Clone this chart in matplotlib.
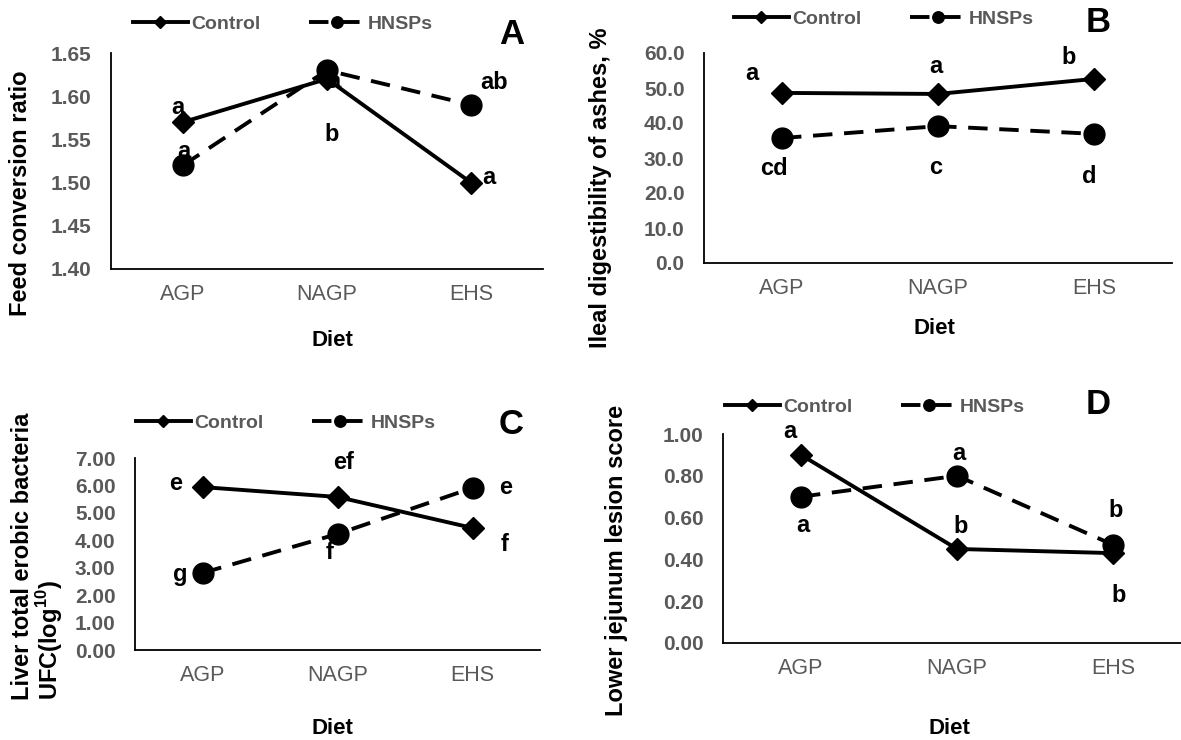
import numpy as np
import matplotlib.pyplot as plt
from matplotlib.ticker import FormatStrFormatter

plt.rcParams['font.family'] = ['Liberation Sans', 'DejaVu Sans']
plt.rcParams['mathtext.fontset'] = 'custom'
plt.rcParams['mathtext.bf'] = 'Liberation Sans:bold'
plt.rcParams['mathtext.rm'] = 'Liberation Sans:bold'

diets = ['AGP', 'NAGP', 'EHS']

# A: feed conversion ratio
fcr_control = [1.57, 1.62, 1.50]
fcr_hnsps = [1.52, 1.63, 1.59]
fcr_let_control = ['a', 'a', 'a']
fcr_let_hnsps = ['a', 'b', 'ab']

# B: ileal digestibility of ashes
ash_control = [48.6, 48.3, 52.6]
ash_hnsps = [35.7, 39.1, 36.9]
ash_let_control = ['a', 'a', 'b']
ash_let_hnsps = ['cd', 'c', 'd']

# C: liver total aerobic bacteria
liv_control = [5.94, 5.58, 4.45]
liv_hnsps = [2.81, 4.23, 5.91]
liv_let_control = ['e', 'ef', 'f']
liv_let_hnsps = ['g', 'f', 'e']

# D: lower jejunum lesion score
les_control = [0.90, 0.45, 0.43]
les_hnsps = [0.70, 0.80, 0.47]
les_let_control = ['a', 'b', 'b']
les_let_hnsps = ['a', 'a', 'b']

W, H = 1181, 740
GRAY = '#595959'
fig = plt.figure(figsize=(W / 100, H / 100), dpi=100)


def px_rect(left, right, top, bottom):
    return [left / W, 1 - bottom / H, (right - left) / W, (bottom - top) / H]


def panel(rect, ctrl, hnsp, let_c, let_h, off_c, off_h, yticks, fmt,
          legend_xy, letter, letter_xy):
    ax = fig.add_axes(rect)
    x = np.arange(len(diets))
    l1, = ax.plot(x, ctrl, color='black', lw=2.8, marker='D', ms=11,
                  zorder=3, clip_on=False, label='Control')
    l2, = ax.plot(x, hnsp, color='black', lw=2.8, ls=(0, (5, 3)), marker='o',
                  ms=15, zorder=3, clip_on=False, label='HNSPs')
    for xi, (v, t, o) in enumerate(zip(ctrl, let_c, off_c)):
        ax.annotate(t, (xi, v), xytext=(o[0] * 0.72, o[1] * 0.72),
                    textcoords='offset points', ha='center', va='center',
                    fontsize=17, fontweight='bold', zorder=2)
    for xi, (v, t, o) in enumerate(zip(hnsp, let_h, off_h)):
        ax.annotate(t, (xi, v), xytext=(o[0] * 0.72, o[1] * 0.72),
                    textcoords='offset points', ha='center', va='center',
                    fontsize=17, fontweight='bold', zorder=2)
    ax.set_xlim(-0.5, 2.5)
    ax.set_ylim(yticks[0], yticks[-1])
    ax.set_yticks(yticks)
    ax.yaxis.set_major_formatter(FormatStrFormatter(fmt))
    ax.set_xticks(x)
    ax.set_xticklabels(diets)
    ax.tick_params(axis='y', length=0, pad=14, labelsize=15, labelcolor=GRAY)
    ax.tick_params(axis='x', length=0, pad=11, labelsize=15.5, labelcolor=GRAY)
    for lab in ax.get_yticklabels():
        lab.set_fontweight('bold')
    for s in ['top', 'right']:
        ax.spines[s].set_visible(False)
    for s in ['left', 'bottom']:
        ax.spines[s].set_linewidth(1.3)
    ax.legend([l1, l2], ['Control', 'HNSPs'], loc='center',
              bbox_to_anchor=(legend_xy[0] / W, 1 - legend_xy[1] / H),
              bbox_transform=fig.transFigure, ncol=2, frameon=False,
              prop={'weight': 'bold', 'size': 14}, labelcolor=GRAY,
              handlelength=2.8, handletextpad=0.2, columnspacing=2.5,
              markerscale=0.55, borderpad=0, borderaxespad=0)
    fig.text(letter_xy[0] / W, 1 - letter_xy[1] / H, letter, fontsize=25,
             fontweight='bold', ha='center', va='center')
    return ax


# offsets of significance letters from their points, pixels (dx, dy up)
panel(px_rect(111, 543, 53, 269), fcr_control, fcr_hnsps,
      fcr_let_control, fcr_let_hnsps,
      [(-5, 15), (7, -3), (18, 5)], [(1, 14), (5, -64), (23, 22)],
      np.arange(1.40, 1.651, 0.05), '%.2f', (283, 24), 'A', (512, 35))
panel(px_rect(704, 1172, 53, 263), ash_control, ash_hnsps,
      ash_let_control, ash_let_hnsps,
      [(-30, 19), (-2, 27), (-25, 21)], [(-8, -30), (-2, -41), (-5, -43)],
      np.arange(0, 60.1, 10), '%.1f', (884, 19), 'B', (1098, 22))
panel(px_rect(135, 540, 458, 650), liv_control, liv_hnsps,
      liv_let_control, liv_let_hnsps,
      [(-27, 4), (6, 34), (32, -17)], [(-22, -2), (-8, -19), (33, 0)],
      np.arange(0, 7.01, 1), '%.2f', (286, 423), 'C', (511, 425))
panel(px_rect(723, 1191, 434, 643), les_control, les_hnsps,
      les_let_control, les_let_hnsps,
      [(-11, 23), (4, 22), (6, -42)], [(2, -29), (2, 22), (3, 34)],
      np.arange(0, 1.01, 0.2), '%.2f', (875, 407), 'D', (1098, 404))

# axis titles
fig.text(332 / W, 1 - 340 / H, 'Diet', fontsize=16, fontweight='bold', ha='center', va='center')
fig.text(934 / W, 1 - 328 / H, 'Diet', fontsize=16, fontweight='bold', ha='center', va='center')
fig.text(332 / W, 1 - 728 / H, 'Diet', fontsize=16, fontweight='bold', ha='center', va='center')
fig.text(949 / W, 1 - 728 / H, 'Diet', fontsize=16, fontweight='bold', ha='center', va='center')

fig.text(21 / W, 1 - 193 / H, 'Feed conversion ratio', rotation=90,
         fontsize=17, fontweight='bold', ha='center', va='center')
fig.text(600 / W, 1 - 188 / H, 'Ileal digestibility of ashes, %', rotation=90,
         fontsize=17, fontweight='bold', ha='center', va='center')
fig.text(38 / W, 1 - 700 / H,
         'Liver total erobic bacteria\nUFC(log$^{\\mathbf{10}}$)', rotation=90,
         fontsize=17, fontweight='bold', ha='center', va='bottom',
         multialignment='left', linespacing=1.0)
fig.text(617 / W, 1 - 560 / H, 'Lower jejunum lesion score', rotation=90,
         fontsize=17, fontweight='bold', ha='center', va='center')

fig.savefig('out.png', dpi=100)
